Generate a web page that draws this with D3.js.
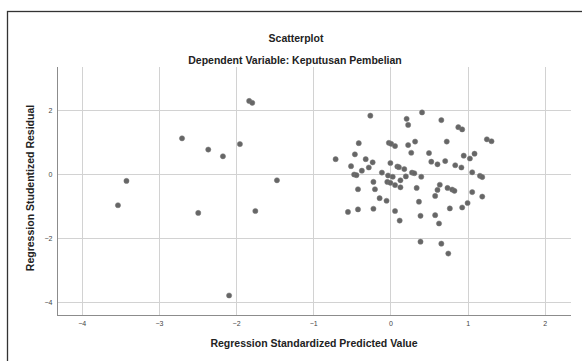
<!DOCTYPE html>
<html>
<head>
<meta charset="utf-8">
<script src="https://cdn.jsdelivr.net/npm/d3@7"></script>
<style>
  html, body { margin: 0; padding: 0; background: #fff; }
  svg { display: block; }
  text { font-family: "Liberation Sans", Arial, sans-serif; }
</style>
</head>
<body>
<svg id="chart" width="582" height="361"></svg>
<script>
const chartTitle = "Scatterplot";
const chartSubtitle = "Dependent Variable: Keputusan Pembelian";
const xAxisTitle = "Regression Standardized Predicted Value";
const yAxisTitle = "Regression Studentized Residual";

const xTicks = [-4, -3, -2, -1, 0, 1, 2];
const yTicks = [-4, -2, 0, 2];

// Regression Standardized Predicted Value
const predicted = [
  -1.83, -1.79, -2.70, -2.36, -2.17, -1.95, -3.42, -3.53, -2.49, -1.47, -1.75, -2.09,
  -0.26, -0.41, -0.02, 0.01, 0.06, -0.46, -0.71, -0.32, -0.23, -0.51, -0.28, -0.37,
  0.00, 0.09, 0.11, -0.47, -0.44, -0.11, -0.03, 0.03, -0.22, -0.04, 0.00, 0.06,
  -0.42, -0.20, -0.14, -0.05, -0.55, -0.42, -0.22, 0.06, 0.12, 0.13, 0.13,
  0.21, 0.23, 0.23, 0.32, 0.27, 0.18, 0.28, 0.31, 0.20, 0.34, 0.37, 0.39, 0.39,
  0.41, 0.66, 0.88, 0.93, 0.73, 1.25, 1.31, 0.50, 0.53, 0.61, 0.71, 0.84, 0.92,
  0.95, 1.03, 1.09, 0.40, 1.06, 1.16, 1.19, 0.64, 0.61, 0.58, 0.74, 0.80, 0.83,
  1.06, 1.19, 0.77, 0.93, 1.00, 0.58, 0.63, 0.66, 0.75
];
// Regression Studentized Residual
const residual = [
  2.29, 2.23, 1.12, 0.77, 0.56, 0.94, -0.21, -0.97, -1.21, -0.19, -1.15, -3.79,
  1.83, 0.97, 0.98, 0.95, 0.88, 0.62, 0.47, 0.47, 0.37, 0.25, 0.21, 0.11,
  0.35, 0.24, 0.22, -0.01, -0.03, 0.05, -0.04, -0.08, -0.24, -0.24, -0.27, -0.34,
  -0.47, -0.47, -0.75, -0.83, -1.18, -1.10, -1.08, -1.15, -1.45, -0.41, -0.19,
  1.73, 1.54, 0.91, 1.02, 0.67, 0.16, 0.05, 0.03, -0.07, -0.43, -0.86, -1.30, -2.11,
  1.93, 1.69, 1.47, 1.40, 1.02, 1.09, 1.03, 0.66, 0.39, 0.31, 0.41, 0.28, 0.21,
  0.58, 0.49, 0.64, -0.08, 0.06, -0.05, -0.09, -0.33, -0.49, -0.68, -0.43, -0.48, -0.52,
  -0.56, -0.70, -1.07, -1.04, -0.90, -1.28, -1.54, -2.17, -2.48
];

const points = predicted.map((x, i) => ({ x, y: residual[i] }));

const svg = d3.select("#chart");

// outer frame
svg.append("rect")
  .attr("x", 7.5).attr("y", 11.5)
  .attr("width", 600).attr("height", 400)
  .attr("fill", "none")
  .attr("stroke", "#333")
  .attr("stroke-width", 1.3);

const plot = { left: 57, right: 571, top: 67, bottom: 315 };

const x = d3.scaleLinear().domain([-4.32, 2.34]).range([plot.left, plot.right]);
const y = d3.scaleLinear().domain([-4.40, 3.35]).range([plot.bottom, plot.top]);

// gridlines
const grid = svg.append("g");
grid.selectAll("line.vx").data(xTicks).enter().append("line")
  .attr("x1", d => Math.round(x(d)) + 0.5).attr("x2", d => Math.round(x(d)) + 0.5)
  .attr("y1", plot.top).attr("y2", plot.bottom)
  .attr("stroke", "#d2d2d2").attr("stroke-width", 1);
grid.selectAll("line.hy").data(yTicks).enter().append("line")
  .attr("y1", d => Math.round(y(d)) + 0.5).attr("y2", d => Math.round(y(d)) + 0.5)
  .attr("x1", plot.left).attr("x2", plot.right)
  .attr("stroke", "#d2d2d2").attr("stroke-width", 1);

// axes
const xAxis = d3.axisBottom(x).tickValues(xTicks).tickSize(0).tickPadding(6)
  .tickFormat(d3.format("d"));
const yAxis = d3.axisLeft(y).tickValues(yTicks).tickSize(0).tickPadding(5)
  .tickFormat(d3.format("d"));

const gx = svg.append("g").attr("transform", `translate(0,${plot.bottom + 0.5})`).call(xAxis);
const gy = svg.append("g").attr("transform", `translate(${plot.left + 0.5},0)`).call(yAxis);
[gx, gy].forEach(g => {
  g.select(".domain").attr("stroke", "#8c8c8c").attr("stroke-width", 1);
  g.selectAll("text")
    .style("font-family", "'Liberation Sans', Arial, sans-serif")
    .style("font-size", "7px")
    .attr("fill", "#444");
});
gx.select(".domain").attr("d", `M${plot.left},0H${plot.right}`);
gy.select(".domain").attr("d", `M0,${plot.top}V${plot.bottom}`);

// points
svg.append("g").selectAll("circle").data(points).enter().append("circle")
  .attr("cx", d => x(d.x))
  .attr("cy", d => y(d.y))
  .attr("r", 2.6)
  .attr("fill", "#666666")
  .attr("stroke", "#7a7a7a")
  .attr("stroke-width", 0.5);

// titles
svg.append("text")
  .attr("x", 296).attr("y", 42)
  .attr("text-anchor", "middle")
  .style("font-size", "10.5px").style("font-weight", "bold")
  .attr("fill", "#222")
  .text(chartTitle);
svg.append("text")
  .attr("x", 295).attr("y", 63.5)
  .attr("text-anchor", "middle")
  .style("font-size", "10.5px").style("font-weight", "bold")
  .attr("fill", "#222")
  .text(chartSubtitle);
svg.append("text")
  .attr("x", 314).attr("y", 347)
  .attr("text-anchor", "middle")
  .style("font-size", "10.5px").style("font-weight", "bold")
  .attr("fill", "#222")
  .text(xAxisTitle);
svg.append("text")
  .attr("transform", `translate(34,188) rotate(-90)`)
  .attr("text-anchor", "middle")
  .style("font-size", "10.5px").style("font-weight", "bold")
  .attr("fill", "#222")
  .text(yAxisTitle);
</script>
</body>
</html>
